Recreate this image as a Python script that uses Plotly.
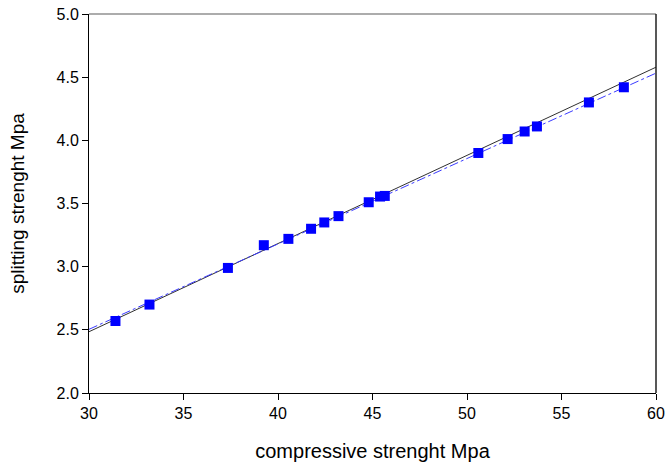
import numpy as np
import plotly.graph_objects as go

# Measured compressive vs splitting tensile strength
compressive = [31.4, 33.2, 37.35, 39.25, 40.55, 41.75, 42.45, 43.2, 44.8, 45.4, 45.65,
               50.6, 52.15, 53.05, 53.7, 56.45, 58.3]
splitting = [2.57, 2.70, 2.99, 3.17, 3.22, 3.30, 3.35, 3.40, 3.51, 3.555, 3.56,
             3.90, 4.01, 4.07, 4.11, 4.30, 4.42]

# Linear relations: splitting = slope * compressive + intercept
black_fit = {"slope": 0.0698, "intercept": 0.391}
blue_fit = {"slope": 0.0676, "intercept": 0.476}

x_range = [30, 60]
y_range = [2.0, 5.0]
x_ticks = [30, 35, 40, 45, 50, 55, 60]
y_ticks = [2.0, 2.5, 3.0, 3.5, 4.0, 4.5, 5.0]

xs = np.array(x_range, dtype=float)

fig = go.Figure()
fig.add_trace(go.Scatter(
    x=xs, y=black_fit["slope"] * xs + black_fit["intercept"],
    mode="lines", line=dict(color="#303030", width=1), showlegend=False))
fig.add_trace(go.Scatter(
    x=xs, y=blue_fit["slope"] * xs + blue_fit["intercept"],
    mode="lines", line=dict(color="#3a3aff", width=1, dash="dashdot"), showlegend=False))
fig.add_trace(go.Scatter(
    x=compressive, y=splitting, mode="markers",
    marker=dict(symbol="square", size=10, color="#0000ff", line=dict(width=0)),
    showlegend=False))

font = "Liberation Sans, Arial, sans-serif"
fig.update_layout(
    width=665, height=464,
    margin=dict(l=89, r=9, t=14, b=71),
    paper_bgcolor="white", plot_bgcolor="white",
    font=dict(family=font, color="black"),
    xaxis=dict(range=x_range, tickvals=x_ticks, ticks="outside", ticklen=6,
               tickcolor="black", showline=True, linecolor="black", linewidth=1,
               showgrid=False, zeroline=False, tickfont=dict(size=16), automargin=False,
               title=dict(text="compressive strenght Mpa", font=dict(size=20), standoff=22)),
    yaxis=dict(range=y_range, tickvals=y_ticks, tickformat=".1f", ticks="outside",
               ticklen=6, tickcolor="black", showline=True, linecolor="black", linewidth=1,
               showgrid=False, zeroline=False, tickfont=dict(size=16), automargin=False,
               title=dict(text="splitting strenght Mpa", font=dict(size=19), standoff=26)),
    shapes=[
        dict(type="line", xref="paper", yref="paper", x0=0, x1=1, y0=1, y1=1,
             line=dict(color="#909090", width=1.5)),
        dict(type="line", xref="paper", yref="paper", x0=1, x1=1, y0=0, y1=1,
             line=dict(color="#202020", width=1.5)),
    ],
)

fig.write_html("out.html")
